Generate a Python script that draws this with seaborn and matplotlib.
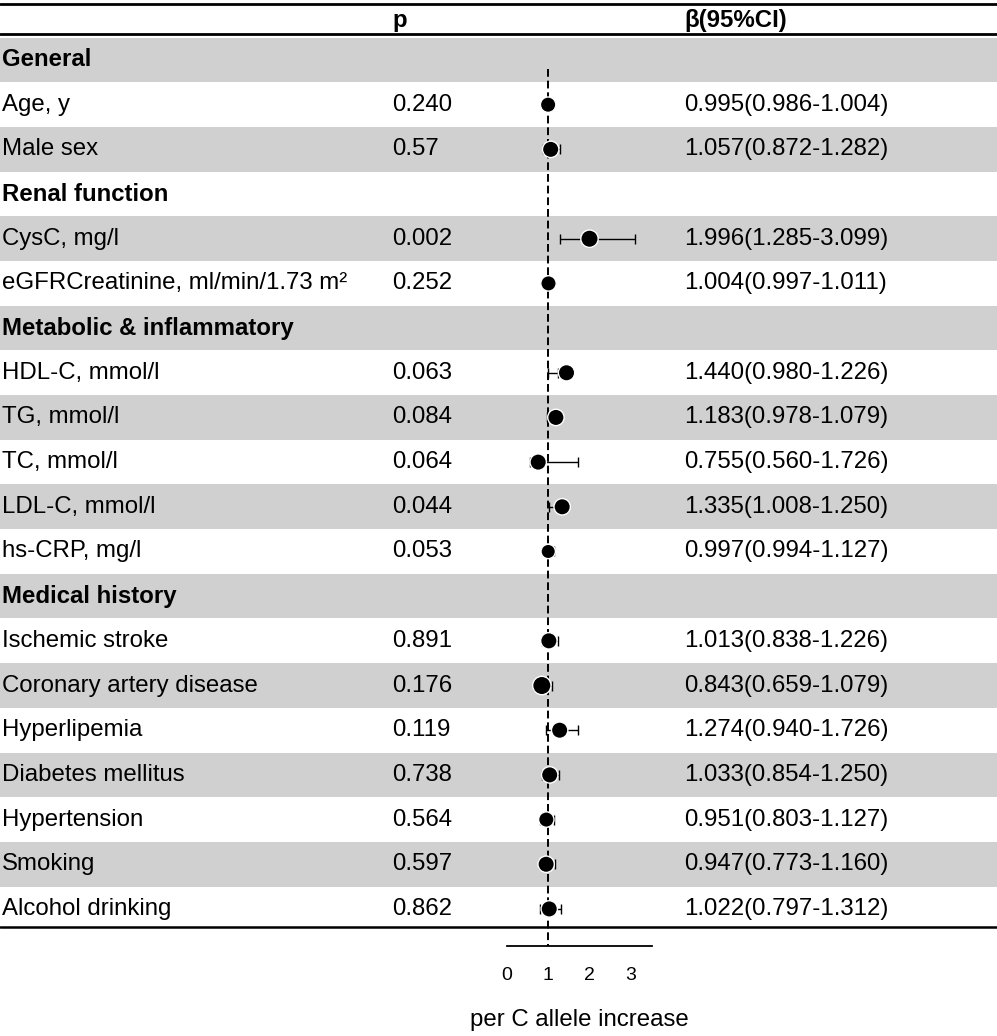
import matplotlib
matplotlib.use("Agg")
import matplotlib.pyplot as plt
import matplotlib.transforms as mtransforms
import numpy as np
import pandas as pd
import seaborn as sns

# rows of the table, top to bottom
labels = [
    "General", "Age, y", "Male sex",
    "Renal function", "CysC, mg/l", "eGFRCreatinine, ml/min/1.73 m\u00b2",
    "Metabolic & inflammatory", "HDL-C, mmol/l", "TG, mmol/l", "TC, mmol/l",
    "LDL-C, mmol/l", "hs-CRP, mg/l",
    "Medical history", "Ischemic stroke", "Coronary artery disease",
    "Hyperlipemia", "Diabetes mellitus", "Hypertension", "Smoking",
    "Alcohol drinking",
]
is_group = [True, False, False, True, False, False, True, False, False, False,
            False, False, True, False, False, False, False, False, False, False]
p_values = ["", "0.240", "0.57", "", "0.002", "0.252", "", "0.063", "0.084",
            "0.064", "0.044", "0.053", "", "0.891", "0.176", "0.119", "0.738",
            "0.564", "0.597", "0.862"]
beta = [np.nan, 0.995, 1.057, np.nan, 1.996, 1.004, np.nan, 1.440, 1.183,
        0.755, 1.335, 0.997, np.nan, 1.013, 0.843, 1.274, 1.033, 0.951,
        0.947, 1.022]
ci_low = [np.nan, 0.986, 0.872, np.nan, 1.285, 0.997, np.nan, 0.980, 0.978,
          0.560, 1.008, 0.994, np.nan, 0.838, 0.659, 0.940, 0.854, 0.803,
          0.773, 0.797]
ci_high = [np.nan, 1.004, 1.282, np.nan, 3.099, 1.011, np.nan, 1.226, 1.079,
           1.726, 1.250, 1.127, np.nan, 1.226, 1.079, 1.726, 1.250, 1.127,
           1.160, 1.312]
# marker diameter (px) as drawn in the original
box_px = [0, 14, 15, 0, 16, 14, 0, 15, 15, 15, 15, 13, 0, 15, 17, 15, 15,
          14, 15, 15]
x_ticks = [0, 1, 2, 3]

df = pd.DataFrame({"label": labels, "group": is_group, "p": p_values,
                   "beta": beta, "lo": ci_low, "hi": ci_high, "box": box_px})
df["row"] = np.arange(len(df))
est = df[~df["group"]]

sns.set_theme(style="white")
plt.rcParams["font.family"] = ["Liberation Sans", "DejaVu Sans"]
plt.rcParams["text.color"] = "black"

W, H = 997, 1036
fig = plt.figure(figsize=(W / 100, H / 100), dpi=100)
top_px, bottom_px = 3, 946
ax = fig.add_axes([0, 1 - bottom_px / H, 1, (bottom_px - top_px) / H])

row0_px, row_px = 60, 44.68
ax.set_ylim((bottom_px - row0_px) / row_px, (top_px - row0_px) / row_px)
unit_px, zero_px = 41.33, 507
ax.set_xlim(-zero_px / unit_px, (W - zero_px) / unit_px)

# zebra bands
for r in df["row"]:
    if r % 2 == 0:
        ax.axhspan(r - 0.5, r + 0.5, color="#d0d0d0", lw=0, zorder=0)

# table rules
ax.axhline(-1.25, color="black", lw=2, clip_on=False, zorder=5)
ax.axhline(-0.58, color="black", lw=2, zorder=5)
ax.axhline(19.4, color="black", lw=1.8, zorder=5)

# reference line
ax.vlines(1, 0.2, ax.get_ylim()[0], color="black", lw=1.4,
          linestyles=(0, (4, 2)), zorder=2)

# confidence intervals with end caps
ax.hlines(est["row"], est["lo"], est["hi"], color="black", lw=1.0, zorder=3)
for col in ["lo", "hi"]:
    ax.scatter(est[col], est["row"], marker="|", s=48, color="black",
               linewidths=1.0, zorder=3)
# black disc diameter ~ box_px, plus the white rim
sns.scatterplot(data=est, x="beta", y="row",
                s=(est["box"] * 0.72 + 1.0) ** 2,
                color="black", edgecolor="white", linewidth=1.0, ax=ax,
                zorder=4, legend=False)

# text columns
tr = ax.get_yaxis_transform()
fs = 17.3
for _, r in df.iterrows():
    ax.text(2 / W, r["row"], r["label"], transform=tr, fontsize=fs,
            va="center", ha="left",
            fontweight="bold" if r["group"] else "normal")
    if not r["group"]:
        ax.text(392 / W, r["row"], r["p"], transform=tr, fontsize=fs,
                va="center", ha="left")
        ax.text(684 / W, r["row"],
                f"{r['beta']:.3f}({r['lo']:.3f}-{r['hi']:.3f})",
                transform=tr, fontsize=fs, va="center", ha="left")
hy = (21 - row0_px) / row_px
ax.text(392 / W, hy, "p", transform=tr, fontsize=fs, fontweight="bold",
        va="center", ha="left")
ax.text(684 / W, hy, "\u03b2(95%CI)", transform=tr, fontsize=fs,
        fontweight="bold", va="center", ha="left")

# x axis
for s in ["top", "left", "right"]:
    ax.spines[s].set_visible(False)
ax.spines["bottom"].set_bounds(0, 3.5)
ax.spines["bottom"].set_color("black")
ax.spines["bottom"].set_linewidth(1.3)
ax.set_xticks(x_ticks)
ax.set_xticklabels([str(t) for t in x_ticks])
ax.tick_params(axis="x", length=0, pad=15, labelsize=14, colors="black")
ax.set_yticks([])
ax.set_ylabel("")
ax.set_xlabel("per C allele increase", fontsize=17.3, color="black")
ax.xaxis.set_label_coords(
    1.75, 1 - 1020 / H,
    transform=mtransforms.blended_transform_factory(ax.transData,
                                                    fig.transFigure))
ax.xaxis.label.set_va("center")

fig.savefig("out.png", dpi=100)
